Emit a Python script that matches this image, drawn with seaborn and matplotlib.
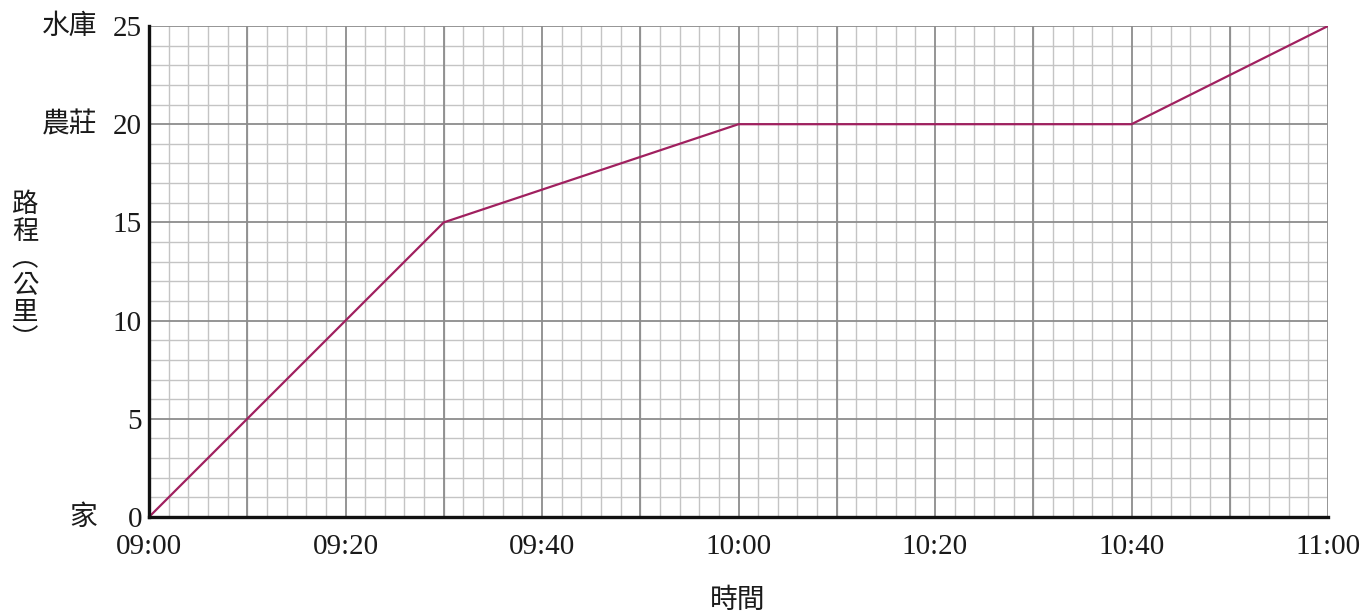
import pandas as pd
import seaborn as sns
import matplotlib.pyplot as plt
from matplotlib.ticker import MultipleLocator
from matplotlib.transforms import blended_transform_factory

# journey data
times = ["09:00", "09:30", "10:00", "10:40", "11:00"]
distance_km = [0, 15, 20, 20, 25]

x_tick_labels = ["09:00", "09:20", "09:40", "10:00", "10:20", "10:40", "11:00"]
y_ticks = [0, 5, 10, 15, 20, 25]
place_names = {0: "家", 20: "農莊", 25: "水庫"}

sns.set_style("white")
plt.rcParams['font.family'] = ['Liberation Serif', 'Noto Sans CJK TC', 'DejaVu Sans']

start = pd.to_datetime(times[0], format="%H:%M")
minutes = [(pd.to_datetime(t, format="%H:%M") - start).seconds / 60 for t in times]
df = pd.DataFrame({"minutes": minutes, "distance": distance_km})

fig = plt.figure(figsize=(13.66, 6.15), dpi=100)
ax = fig.add_axes([149 / 1366, 1 - 517 / 615, (1328 - 149) / 1366, (517 - 26) / 615])

sns.lineplot(data=df, x="minutes", y="distance", ax=ax, color="#A0205F", linewidth=1.6, zorder=5)

ax.set_xlim(0, 120)
ax.set_ylim(0, 25)
ax.xaxis.set_minor_locator(MultipleLocator(2))
ax.yaxis.set_minor_locator(MultipleLocator(1))
ax.set_xticks(range(0, 121, 20))
ax.set_xticklabels(x_tick_labels)
ax.set_yticks(y_ticks)
ax.set_yticklabels([str(v) for v in y_ticks])

# grid: fine lines every 2 min / 1 km, darker every 10 min / 5 km
ax.grid(which="minor", color="#c4c4c4", linewidth=1.0)
for m in range(0, 121, 10):
    ax.axvline(m, color="#8c8c8c", linewidth=1.3, zorder=1)
for d in y_ticks:
    ax.axhline(d, color="#8c8c8c", linewidth=1.3, zorder=1)
ax.set_axisbelow(True)

ax.tick_params(which="both", length=0)
ax.tick_params(axis="x", labelsize=21, pad=12, colors="#1a1a1a")
ax.tick_params(axis="y", labelsize=21, pad=5, colors="#1a1a1a")

for side in ["top", "right"]:
    ax.spines[side].set_visible(False)
for side in ["left", "bottom"]:
    ax.spines[side].set_linewidth(2.4)
    ax.spines[side].set_color("#111111")
    ax.spines[side].set_zorder(6)

# place names next to the distance ticks
trans = blended_transform_factory(fig.transFigure, ax.transData)
for val, name in place_names.items():
    ax.text(97 / 1366, val, name, transform=trans, ha="right", va="center",
            fontsize=20, family=['Noto Sans CJK TC'], color="#1a1a1a")

ax.set_xlabel("")
ax.set_ylabel("")
fig.text(25 / 1366, 1 - 272 / 615, "路\n程\n︵\n公\n里\n︶", ha="center", va="center",
         fontsize=19, family=['Noto Sans CJK TC'], color="#1a1a1a", linespacing=1.0)
fig.text(738 / 1366, 1 - 600 / 615, "時間", ha="center", va="center",
         fontsize=20, family=['Noto Sans CJK TC'], color="#1a1a1a")

fig.savefig("out.png", dpi=100)
